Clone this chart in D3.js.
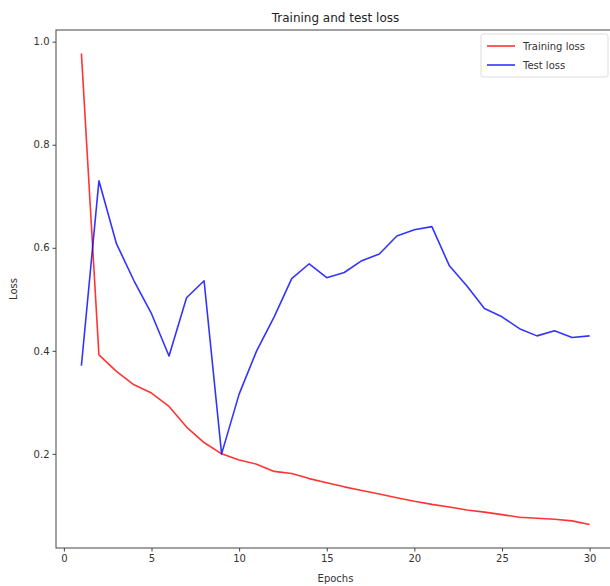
<!DOCTYPE html>
<html>
<head>
<meta charset="utf-8">
<script src="https://cdn.jsdelivr.net/npm/d3@7"></script>
<style>
  html, body { margin: 0; padding: 0; background: #fff; }
  svg { display: block; font-family: "DejaVu Sans", sans-serif; }
</style>
</head>
<body>
<svg id="chart" width="610" height="586"></svg>
<script>
const epochs = d3.range(1, 31);
const trainingLoss = [0.977, 0.392, 0.360, 0.334, 0.318, 0.292, 0.252, 0.222, 0.200, 0.188,
                      0.180, 0.166, 0.162, 0.152, 0.144, 0.136, 0.129, 0.122, 0.115, 0.108,
                      0.102, 0.097, 0.091, 0.087, 0.082, 0.077, 0.075, 0.073, 0.070, 0.063];
const testLoss = [0.371, 0.730, 0.608, 0.536, 0.472, 0.390, 0.503, 0.536, 0.200, 0.316,
                  0.400, 0.466, 0.540, 0.569, 0.542, 0.552, 0.575, 0.588, 0.623, 0.635,
                  0.641, 0.565, 0.526, 0.482, 0.466, 0.443, 0.429, 0.439, 0.426, 0.429];
const xTicks = [0, 5, 10, 15, 20, 25, 30];
const yTicks = [0.2, 0.4, 0.6, 0.8, 1.0];
const seriesNames = ["Training loss", "Test loss"];
const seriesColors = ["#ff0000", "#0000ff"];

const svg = d3.select("#chart");
const margin = { left: 56, right: -5, top: 30, bottom: 38 };
const W = 610, H = 586;
const x0 = margin.left, x1 = W - margin.right, y0 = H - margin.bottom, y1 = margin.top;

const xExt = d3.extent(epochs);
const xPad = (xExt[1] - xExt[0]) * 0.05;
const allY = trainingLoss.concat(testLoss);
const yExt = d3.extent(allY);
const yPad = (yExt[1] - yExt[0]) * 0.05;

const x = d3.scaleLinear().domain([xExt[0] - xPad, xExt[1] + xPad]).range([x0, x1]);
const y = d3.scaleLinear().domain([yExt[0] - yPad, yExt[1] + yPad]).range([y0, y1]);

const textColor = "#333";
const axisColor = "#444";

// lines
const line = d3.line().x((d, i) => x(epochs[i])).y(d => y(d));
[trainingLoss, testLoss].forEach((s, k) => {
  svg.append("path").datum(s)
    .attr("d", line)
    .attr("fill", "none")
    .attr("stroke", seriesColors[k])
    .attr("stroke-width", 1.6)
    .attr("stroke-opacity", 0.8)
    .attr("stroke-linejoin", "round");
});

// frame
svg.append("rect").attr("x", x0).attr("y", y1).attr("width", x1 - x0).attr("height", y0 - y1)
  .attr("fill", "none").attr("stroke", axisColor).attr("stroke-width", 1);

// axes
const xAxis = d3.axisBottom(x).tickValues(xTicks).tickSize(3.5).tickPadding(3).tickFormat(d3.format("d"));
const gx = svg.append("g").attr("transform", `translate(0,${y0})`).call(xAxis);
const yAxis = d3.axisLeft(y).tickValues(yTicks).tickSize(3.5).tickPadding(3).tickFormat(d3.format(".1f"));
const gy = svg.append("g").attr("transform", `translate(${x0},0)`).call(yAxis);
[gx, gy].forEach(g => {
  g.select(".domain").remove();
  g.selectAll(".tick line").attr("stroke", axisColor);
  g.selectAll(".tick text").attr("fill", textColor).style("font-size", "10px").style("font-family", "DejaVu Sans, sans-serif");
});

// title and labels
svg.append("text").attr("x", (x0 + x1) / 2).attr("y", 22).attr("text-anchor", "middle")
  .attr("fill", "#222").style("font-size", "12px").text("Training and test loss");
svg.append("text").attr("x", (x0 + x1) / 2).attr("y", 582).attr("text-anchor", "middle")
  .attr("fill", textColor).style("font-size", "10px").text("Epochs");
svg.append("text").attr("transform", `translate(17,${(y0 + y1) / 2}) rotate(-90)`).attr("text-anchor", "middle")
  .attr("fill", textColor).style("font-size", "10px").text("Loss");

// legend
const lg = svg.append("g").attr("transform", "translate(481,34)");
lg.append("rect").attr("width", 127).attr("height", 43).attr("rx", 2)
  .attr("fill", "#fff").attr("fill-opacity", 0.8).attr("stroke", "#ddd");
seriesNames.forEach((n, i) => {
  const yy = 12 + i * 19;
  lg.append("line").attr("x1", 6).attr("x2", 34).attr("y1", yy).attr("y2", yy)
    .attr("stroke", seriesColors[i]).attr("stroke-width", 1.6).attr("stroke-opacity", 0.8);
  lg.append("text").attr("x", 42).attr("y", yy + 3.5).attr("fill", textColor)
    .style("font-size", "10px").text(n);
});
</script>
</body>
</html>
